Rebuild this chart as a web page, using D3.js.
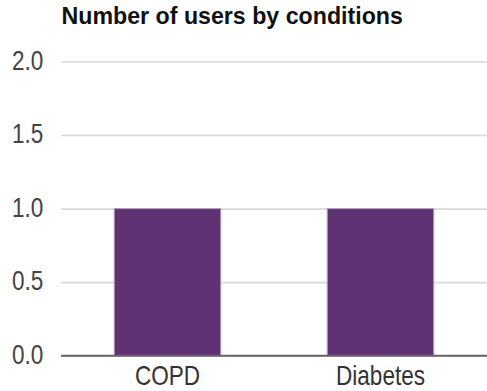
<!DOCTYPE html>
<html>
<head>
<meta charset="utf-8">
<script src="https://cdn.jsdelivr.net/npm/d3@7"></script>
<style>
  html, body { margin: 0; padding: 0; background: #fff; }
  svg { display: block; }
</style>
</head>
<body>
<svg id="chart" width="487" height="391"></svg>
<script>
// Chart data
const categories = ["COPD", "Diabetes"];
const userCounts = [1, 1];
const yTicks = [0, 0.5, 1.0, 1.5, 2.0];
const chartTitle = "Number of users by conditions";

const plot = { left: 61, right: 487, top: 61.5, bottom: 355.7 };
const labelFont = "Liberation Sans, Arial, sans-serif";
const narrow = 0.82; // horizontal squeeze for the condensed axis labels

const svg = d3.select("#chart");

const x = d3.scaleBand()
  .domain(categories)
  .range([plot.left, plot.right])
  .paddingInner(0.5)
  .paddingOuter(0.25);

const y = d3.scaleLinear()
  .domain([0, 2])
  .range([plot.bottom, plot.top]);

// Title
svg.append("text")
  .attr("x", 61.5)
  .attr("y", 24)
  .attr("font-family", labelFont)
  .attr("font-weight", "bold")
  .attr("font-size", 23.2)
  .attr("fill", "#111")
  .text(chartTitle);

// Horizontal gridlines + y tick labels via an axis
const yAxis = d3.axisLeft(y)
  .tickValues(yTicks)
  .tickFormat(d3.format(".1f"))
  .tickSize(-(plot.right - plot.left))
  .tickPadding(0);

const gy = svg.append("g")
  .attr("transform", `translate(${plot.left},0)`)
  .call(yAxis);
gy.select(".domain").remove();
gy.selectAll(".tick line")
  .attr("stroke", "#d9d9d9")
  .attr("stroke-width", 1.6);
gy.selectAll(".tick text")
  .attr("x", 0)
  .attr("y", 0)
  .attr("dy", 0)
  .attr("transform", `translate(-17.7,7.8) scale(${narrow},1)`)
  .attr("text-anchor", "end")
  .attr("font-family", labelFont)
  .attr("font-size", 27.5)
  .attr("fill", "#444");

// Bars
svg.append("g")
  .selectAll("rect")
  .data(categories.map((c, i) => ({ c, v: userCounts[i] })))
  .join("rect")
  .attr("x", d => x(d.c))
  .attr("y", d => y(d.v))
  .attr("width", x.bandwidth())
  .attr("height", d => y(0) - y(d.v))
  .attr("fill", "#5f3273")
  .attr("stroke", "#b09cbc")
  .attr("stroke-width", 1);

// Baseline
svg.append("line")
  .attr("x1", plot.left)
  .attr("x2", plot.right)
  .attr("y1", y(0))
  .attr("y2", y(0))
  .attr("stroke", "#666")
  .attr("stroke-width", 2);

// Category labels via bottom axis
const xAxis = d3.axisBottom(x).tickSize(0).tickPadding(0);
const gx = svg.append("g")
  .attr("transform", `translate(0,${y(0)})`)
  .call(xAxis);
gx.select(".domain").remove();
gx.selectAll(".tick text")
  .attr("x", 0)
  .attr("y", 0)
  .attr("dy", 0)
  .attr("transform", `translate(0,29.3) scale(${narrow},1)`)
  .attr("font-family", labelFont)
  .attr("font-size", 27.5)
  .attr("fill", "#333");
</script>
</body>
</html>
